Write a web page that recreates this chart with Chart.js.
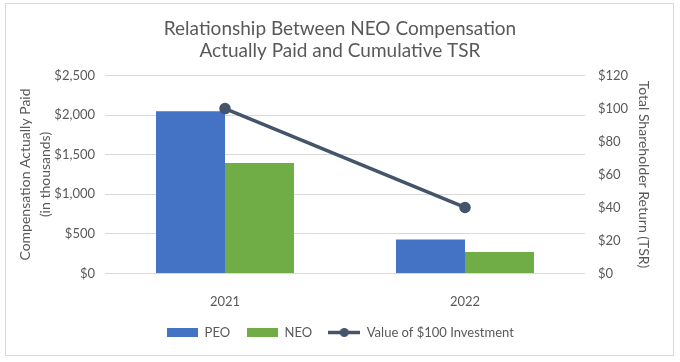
<!DOCTYPE html>
<html>
<head>
<meta charset="utf-8">
<script src="https://cdn.jsdelivr.net/npm/chart.js@4"></script>
<style>
  body { margin: 0; background: #fff; }
  #wrap { position: relative; width: 680px; height: 362px; }
  #frame { position: absolute; left: 5px; top: 3px; width: 667px; height: 351px; border: 1px solid #d9d9d9; pointer-events: none; }
</style>
</head>
<body>
<div id="wrap">
  <canvas id="myChart" width="680" height="362"></canvas>
  <div id="frame"></div>
</div>
<script>
// data
const years = ['2021', '2022'];
const peoValues = [2050, 430];
const neoValues = [1395, 270];
const tsrValues = [100, 40];

const textColor = '#595959';
const fontName = 'Lato';

// little images for the legend markers
function boxMarker(color) {
  let c = document.createElement('canvas');
  c.width = 31; c.height = 9;
  let g = c.getContext('2d');
  g.fillStyle = color;
  g.fillRect(0, 0, 31, 9);
  return c;
}
function lineMarker(color) {
  let c = document.createElement('canvas');
  c.width = 32; c.height = 11;
  let g = c.getContext('2d');
  g.strokeStyle = color;
  g.lineWidth = 3.5;
  g.beginPath(); g.moveTo(0, 5.5); g.lineTo(32, 5.5); g.stroke();
  g.fillStyle = color;
  g.beginPath(); g.arc(16, 5.5, 4.5, 0, Math.PI * 2); g.fill();
  return c;
}
const markers = [boxMarker('#4472C4'), boxMarker('#70AD47'), lineMarker('#44546A')];

let money = v => '$' + v.toLocaleString('en-US');

// setup data block
let gdata = {
  labels: years,
  datasets: [
    {
      type: 'bar',
      label: 'PEO',
      data: peoValues,
      backgroundColor: '#4472C4',
      yAxisID: 'y',
      order: 1,
      barPercentage: 1,
      categoryPercentage: 0.575,
    },
    {
      type: 'bar',
      label: 'NEO',
      data: neoValues,
      backgroundColor: '#70AD47',
      yAxisID: 'y',
      order: 1,
      barPercentage: 1,
      categoryPercentage: 0.575,
    },
    {
      type: 'line',
      label: 'Value of $100 Investment',
      data: tsrValues,
      borderColor: '#44546A',
      backgroundColor: '#44546A',
      borderWidth: 3.5,
      pointRadius: 4,
      pointBackgroundColor: '#44546A',
      yAxisID: 'y1',
      order: 0,
    },
  ],
};

// config block
let config = {
  type: 'bar',
  data: gdata,
  options: {
    responsive: false,
    animation: false,
    layout: { padding: { left: 0, right: 0, top: 0, bottom: 13 } },
    plugins: {
      title: {
        display: true,
        text: ['Relationship Between NEO Compensation', 'Actually Paid and Cumulative TSR'],
        color: textColor,
        font: { family: fontName, size: 19, weight: 'normal', lineHeight: 1.2 },
        padding: { top: 17, bottom: 13 },
      },
      legend: {
        position: 'bottom',
        labels: {
          usePointStyle: true,
          pointStyleWidth: 32,
          padding: 16,
          color: textColor,
          font: { family: fontName, size: 13 },
          generateLabels: chart => chart.data.datasets.map((ds, i) => ({
            text: ds.label,
            fillStyle: ds.backgroundColor,
            strokeStyle: ds.backgroundColor,
            lineWidth: 0,
            pointStyle: markers[i],
            hidden: false,
            datasetIndex: i,
            fontColor: textColor,
          })),
        },
      },
      tooltip: { enabled: false },
    },
    scales: {
      x: {
        afterFit: s => { s.height = s.height - 13; },
        grid: { display: false },
        border: { display: false },
        ticks: { color: textColor, font: { family: fontName, size: 13 }, padding: 13 },
      },
      y: {
        position: 'left',
        min: 0,
        max: 2500,
        afterFit: s => { s.width = 105; },
        grid: { color: '#d9d9d9', drawTicks: false },
        border: { display: false },
        ticks: { stepSize: 500, padding: 10, color: textColor, font: { family: fontName, size: 13 }, callback: v => money(v) },
        title: {
          display: true,
          text: ['Compensation Actually Paid', '(in thousands)'],
          color: textColor,
          font: { family: fontName, size: 14, lineHeight: 1.4 },
          padding: { top: 16, bottom: 0 },
        },
      },
      y1: {
        position: 'right',
        min: 0,
        max: 120,
        afterFit: s => { s.width = 95; },
        grid: { display: false, drawTicks: false },
        border: { display: false },
        ticks: { stepSize: 20, padding: 13, color: textColor, font: { family: fontName, size: 13 }, callback: v => money(v) },
        title: {
          display: true,
          text: 'Total Shareholder Return (TSR)',
          color: textColor,
          font: { family: fontName, size: 14, lineHeight: 1.4 },
          padding: { top: 27, bottom: 0 },
        },
      },
    },
  },
};

// render block
let myChart = new Chart(document.getElementById('myChart'), config);
</script>
</body>
</html>
